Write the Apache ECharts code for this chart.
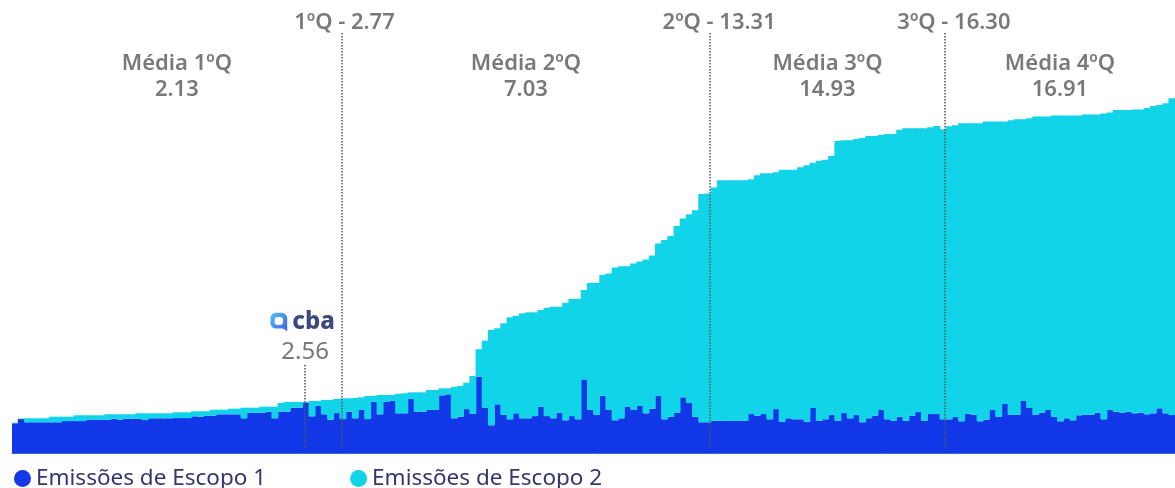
<!DOCTYPE html>
<html>
<head>
<meta charset="utf-8">
<script src="https://cdn.jsdelivr.net/npm/echarts@6/dist/echarts.min.js"></script>
<style>
  html, body { margin: 0; padding: 0; background: #fff; }
  #chart { width: 1175px; height: 488px; }
</style>
</head>
<body>
<div id="chart"></div>
<script>
// emissões por empresa (tCO2e / unidade), ordenadas pelo total
const escopo1 = [
  1.49,1.70,1.54,1.54,1.54,1.54,1.54,1.54,1.60,1.60,
  1.60,1.60,1.67,1.67,1.67,1.67,1.72,1.67,1.72,1.72,
  1.72,1.65,1.74,1.74,1.74,1.74,1.75,1.75,1.75,1.84,
  1.82,1.87,1.87,1.94,1.94,1.94,1.94,1.74,2.02,2.02,
  2.02,2.07,1.74,2.07,2.07,2.27,2.27,2.53,1.84,2.36,
  1.94,1.67,2.00,1.70,2.07,1.74,2.16,1.70,2.56,1.94,
  2.56,2.61,1.99,1.99,2.71,2.07,2.07,2.16,2.16,2.89,
  2.94,1.74,1.82,2.20,1.97,3.83,2.26,1.39,2.44,1.92,
  1.69,1.99,1.74,1.74,1.85,2.31,1.85,1.74,2.02,1.64,
  1.85,1.69,3.69,2.16,1.92,2.86,2.16,1.64,1.74,2.31,
  2.16,2.36,1.99,2.22,2.86,1.69,1.82,2.02,2.79,2.51,
  1.82,1.54,1.54,1.62,1.62,1.62,1.62,1.62,1.62,1.95,
  1.87,1.95,1.69,2.20,1.57,1.74,1.69,1.69,1.57,2.26,
  1.62,1.69,1.90,1.62,2.00,1.74,1.90,1.54,1.74,1.87,
  2.16,1.69,1.62,1.82,1.62,1.87,2.05,1.62,1.95,1.95,
  1.69,1.69,1.80,1.59,1.97,1.92,1.59,1.67,2.16,1.82,
  2.46,1.92,1.92,2.61,2.26,1.92,2.02,2.16,1.82,1.59,
  1.74,1.64,1.89,1.92,1.92,2.02,1.69,2.16,2.07,2.02,
  2.07,1.99,2.02,1.94,1.99,2.24,1.99,1.90
];
const escopo2 = [
  0.03,0.02,0.20,0.20,0.20,0.20,0.28,0.28,0.22,0.22,
  0.29,0.29,0.22,0.22,0.22,0.27,0.22,0.27,0.22,0.22,
  0.27,0.34,0.25,0.25,0.25,0.25,0.29,0.29,0.29,0.25,
  0.27,0.22,0.30,0.23,0.23,0.28,0.28,0.53,0.25,0.25,
  0.30,0.25,0.58,0.44,0.49,0.29,0.29,0.03,0.77,0.25,
  0.72,0.99,0.71,1.04,0.67,1.02,0.63,1.16,0.30,0.97,
  0.35,0.30,0.98,1.00,0.33,0.97,0.97,1.00,1.00,0.35,
  0.30,1.57,1.54,1.32,1.89,1.37,3.37,4.78,3.81,4.58,
  5.11,4.88,5.26,5.31,5.20,4.86,5.43,5.59,5.31,5.89,
  5.87,6.03,4.48,6.36,6.60,6.06,6.84,7.66,7.62,7.05,
  7.34,7.24,7.71,7.68,7.64,8.99,9.06,9.36,8.96,9.46,
  10.35,11.44,11.46,11.69,12.05,12.05,12.05,12.05,12.05,11.77,
  12.05,12.07,12.33,11.87,12.63,12.46,12.51,12.63,12.85,12.29,
  13.02,13.01,12.99,14.02,13.67,13.93,13.84,14.25,14.15,14.02,
  13.78,14.30,14.37,14.38,14.65,14.40,14.22,14.65,14.37,14.44,
  14.53,14.68,14.62,14.93,14.55,14.60,14.93,14.94,14.45,14.79,
  14.15,14.75,14.81,14.12,14.52,14.94,14.84,14.70,15.09,15.32,
  15.17,15.27,15.02,15.04,15.04,14.94,15.32,14.90,15.12,15.17,
  15.12,15.23,15.20,15.35,15.40,15.20,15.54,15.88
];
const empresas = escopo1.map((_, i) => 'Empresa ' + (i + 1));

// quartis: rótulo, valor e posição (em número de empresas)
const quartisNome = ['1ºQ', '2ºQ', '3ºQ'];
const quartisValor = ['2.77', '13.31', '16.30'];
const quartisPos = [53.3, 112.85, 150.8];
const mediasNome = ['Média 1ºQ', 'Média 2ºQ', 'Média 3ºQ', 'Média 4ºQ'];
const mediasValor = ['2.13', '7.03', '14.93', '16.91'];
const cbaPos = 47.38;
const cbaValor = '2.56';

const FONT = '"Noto Sans", sans-serif';
const CINZA = '#575757';
const N = escopo1.length;

// deslocamento para que o traço fique sobre a linha pontilhada
const ctx = document.createElement('canvas').getContext('2d');
ctx.font = '600 22px "Noto Sans"';
function desloc(nome, valor) {
  const total = ctx.measureText(nome + ' - ' + valor).width;
  const esq = ctx.measureText(nome + ' ').width;
  const traco = ctx.measureText('-').width;
  return total / 2 - esq - traco / 2;
}

const iconSvg = "<svg xmlns='http://www.w3.org/2000/svg' width='19' height='21' viewBox='0 0 18 20'>" +
  "<defs><linearGradient id='g' x1='0' y1='0' x2='1' y2='1'><stop offset='0' stop-color='#25b4f7'/>" +
  "<stop offset='1' stop-color='#1438e0'/></linearGradient></defs>" +
  "<path d='M6 1h6a5 5 0 0 1 5 5v12.5l-4-2.5H6a5 5 0 0 1-5-5V6a5 5 0 0 1 5-5z' fill='url(#g)'/>" +
  "<rect x='5' y='5' width='8' height='7.5' rx='3' fill='#fff'/></svg>";
const iconUrl = 'data:image/svg+xml;charset=utf-8,' + encodeURIComponent(iconSvg);

const limites = [0].concat(quartisPos, [N]);

const chart = echarts.init(document.getElementById('chart'));
chart.setOption({
  animation: false,
  grid: { left: 12, width: 1164, top: 14, bottom: 35 },
  legend: {
    data: ['Emissões de Escopo 1', 'Emissões de Escopo 2'],
    left: 14, top: 467, padding: 0,
    icon: 'circle', itemWidth: 17, itemHeight: 17, itemGap: 84,
    textStyle: { fontFamily: FONT, fontSize: 22.5, color: '#36366f' }
  },
  xAxis: [{
    type: 'category', data: empresas,
    axisLine: { show: true, lineStyle: { color: '#3f62ee', width: 1 } },
    axisTick: { show: false }, axisLabel: { show: false }
  }, {
    type: 'value', min: 0, max: N, show: false
  }],
  yAxis: { type: 'value', min: 0, max: 22, show: false, splitLine: { show: false } },
  series: [{
    name: 'Emissões de Escopo 1', type: 'bar', stack: 'total',
    barWidth: 7, data: escopo1,
    itemStyle: { color: '#1238e8' }
  }, {
    name: 'Emissões de Escopo 2', type: 'bar', stack: 'total',
    barWidth: 7, data: escopo2,
    itemStyle: { color: '#12d4e8' }
  }, {
    name: 'quartis', type: 'scatter', xAxisIndex: 1, symbolSize: 0, silent: true,
    data: quartisPos.map((p, i) => ({
      value: [p, 21.55],
      label: {
        formatter: quartisNome[i] + ' - ' + quartisValor[i],
        offset: [desloc(quartisNome[i], quartisValor[i]), 0]
      }
    })),
    label: {
      show: true, position: 'inside',
      fontFamily: FONT, fontSize: 22, fontWeight: 600, color: CINZA
    },
    markLine: {
      silent: true, symbol: 'none', label: { show: false },
      lineStyle: { type: [1.5, 1.5], color: '#555', width: 1.5 },
      data: quartisPos.map(p => [{ coord: [p, 21.05] }, { coord: [p, 0.2] }])
        .concat([[{ coord: [cbaPos, 4.41] }, { coord: [cbaPos, 0.2] }]])
    }
  }, {
    name: 'medias', type: 'scatter', xAxisIndex: 1, symbolSize: 0, silent: true,
    data: mediasNome.map((m, i) => ({
      value: [(limites[i] + limites[i + 1]) / 2, 18.85],
      label: { formatter: m + '\n' + mediasValor[i] }
    })),
    label: {
      show: true, position: 'inside', align: 'center',
      fontFamily: FONT, fontSize: 22, fontWeight: 600, lineHeight: 26, color: CINZA
    }
  }, {
    name: 'cba', type: 'scatter', xAxisIndex: 1, symbolSize: 0, silent: true,
    data: [{
      value: [cbaPos, 6.55],
      label: { formatter: '{icon|}{t|cba}', offset: [-3, 0] }
    }, {
      value: [cbaPos, 5.06],
      label: { formatter: cbaValor, fontFamily: FONT, fontSize: 24, color: CINZA }
    }],
    label: {
      show: true, position: 'inside',
      rich: {
        icon: { width: 19, height: 21, backgroundColor: { image: iconUrl } },
        t: { fontFamily: FONT, fontSize: 24, fontWeight: 800, color: '#0c1a5e', padding: [0, 0, 0, 4] }
      }
    }
  }]
});
</script>
</body>
</html>
